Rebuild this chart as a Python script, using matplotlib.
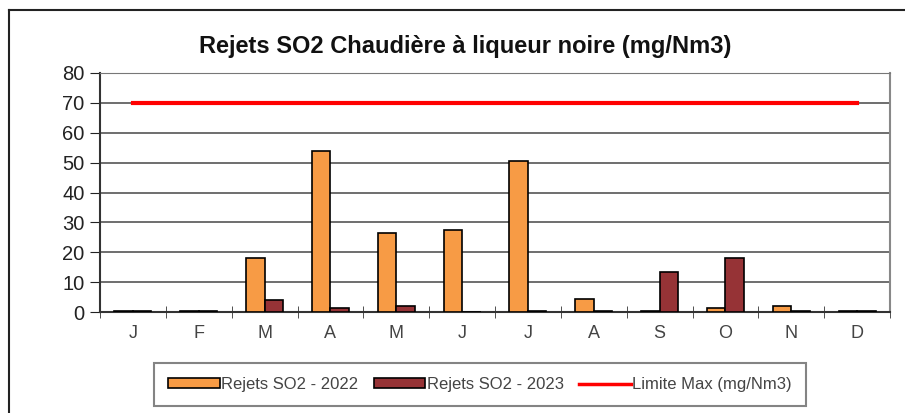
import matplotlib
matplotlib.use('Agg')
import matplotlib.pyplot as plt
from matplotlib.lines import Line2D
import numpy as np

# données
mois = ['J', 'F', 'M', 'A', 'M', 'J', 'J', 'A', 'S', 'O', 'N', 'D']
rejets_2022 = [0.4, 0.4, 18.0, 54.0, 26.5, 27.3, 50.6, 4.4, 0.4, 1.3, 2.0, 0.4]
rejets_2023 = [0.4, 0.4, 3.9, 1.5, 2.0, 0.0, 0.4, 0.4, 13.4, 18.0, 0.5, 0.4]
limite_max = 70

titre = 'Rejets SO2 Chaudière à liqueur noire (mg/Nm3)'
lab_2022 = 'Rejets SO2 - 2022'
lab_2023 = 'Rejets SO2 - 2023'
lab_lim = 'Limite Max (mg/Nm3)'

plt.rcParams['font.family'] = ['Liberation Sans', 'DejaVu Sans']

W, H = 905, 413
fig = plt.figure(figsize=(W / 100, H / 100), dpi=100)

# cadre extérieur (coupé à droite et en bas)
fig.add_artist(Line2D([9 / W, 1], [1 - 10 / H, 1 - 10 / H], color='#222222', lw=1.5))
fig.add_artist(Line2D([9 / W, 9 / W], [0, 1 - 10 / H], color='#222222', lw=1.5))

ax = fig.add_axes([100 / W, (H - 312) / H, 790 / W, 239 / H])

x = np.arange(len(mois))
bw = 0.28
ax.bar(x - bw / 2, rejets_2022, width=bw, color='#F79B45', edgecolor='black', lw=1.2, zorder=3)
ax.bar(x + bw / 2, rejets_2023, width=bw, color='#963336', edgecolor='black', lw=1.2, zorder=3)
ax.plot([x[0], x[-1]], [limite_max, limite_max], color='#FF0000', lw=3, zorder=4)

ax.set_xlim(-0.5, len(mois) - 0.5)
ax.set_ylim(0, 80)
ax.set_yticks(range(0, 81, 10))
ax.yaxis.grid(True, color='#555555', lw=1.2, zorder=0)
ax.set_axisbelow(True)

ax.set_xticks(x)
ax.set_xticklabels(mois)
ax.set_xticks(np.arange(-0.5, len(mois), 1), minor=True)
ax.tick_params(axis='x', which='major', length=0, pad=9, labelsize=13, colors='#444444')
ax.tick_params(axis='x', which='minor', length=8, direction='inout', color='#333333')
ax.tick_params(axis='y', length=7, direction='out', labelsize=14.5, pad=4, colors='#222222')
for lab in ax.get_xticklabels():
    lab.set_color('#444444')

ax.spines['left'].set_color('#333333')
ax.spines['left'].set_linewidth(1.5)
ax.spines['bottom'].set_color('#333333')
ax.spines['bottom'].set_linewidth(1.5)
ax.spines['top'].set_color('#777777')
ax.spines['right'].set_color('#888888')
ax.spines['right'].set_linewidth(1.5)

fig.text(465 / W, 1 - 46 / H, titre, ha='center', va='center',
         fontsize=17, fontweight='bold', color='#111111')

handles = [
    plt.Rectangle((0, 0), 1, 1, facecolor='#F79B45', edgecolor='black', lw=1.2),
    plt.Rectangle((0, 0), 1, 1, facecolor='#963336', edgecolor='black', lw=1.2),
    Line2D([0], [0], color='#FF0000', lw=2.5),
]
leg = fig.legend(handles, [lab_2022, lab_2023, lab_lim], ncol=3,
                 loc='center', bbox_to_anchor=(480 / W, 1 - 384.5 / H),
                 fontsize=12, frameon=True, fancybox=False, edgecolor='#666666',
                 handlelength=3.1, handleheight=0.55, handletextpad=0.1,
                 columnspacing=0.9, borderpad=0.85, borderaxespad=0)
leg.get_frame().set_linewidth(1.5)
for t in leg.get_texts():
    t.set_color('#444444')

fig.savefig('out.png', dpi=100)
